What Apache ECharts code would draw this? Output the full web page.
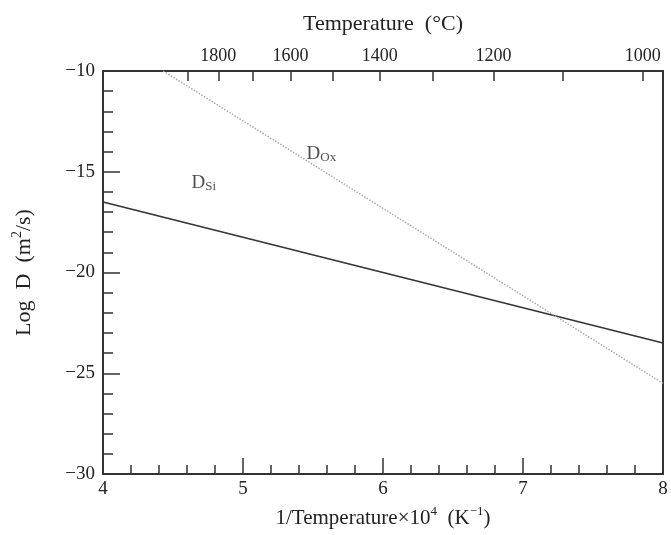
<!DOCTYPE html>
<html>
<head>
<meta charset="utf-8">
<script src="https://cdn.jsdelivr.net/npm/echarts@6/dist/echarts.min.js"></script>
<style>
  html, body { margin: 0; padding: 0; background: #fff; }
  #chart { width: 671px; height: 535px; }
</style>
</head>
<body>
<div id="chart"></div>
<script>
// Reciprocal temperature range (1/T x 10^4, K^-1)
const xMin = 4;
const xMax = 8;
const yMin = -30;
const yMax = -10;

// Temperature scale on the top axis (°C)
const tempTicks = [1900, 1800, 1700, 1600, 1500, 1400, 1300, 1200, 1100, 1000];
const tempLabels = [1800, 1600, 1400, 1200, 1000];

// Diffusivity lines: log D versus 1/T x 10^4
const siX = [4, 8];
const siY = [-16.5, -23.5];
const oxX = [4.43, 8];
const oxY = [-10, -25.5];

// Label anchors for the two lines
const labelSi = [4.72, -15.55, 'Si'];
const labelOx = [5.56, -14.1, 'Ox'];

const toRecip = t => 1e4 / (t + 273);
const minus = s => String(s).replace('-', '\u2212');

const font = 'Liberation Serif, Times New Roman, serif';
const axisColor = '#333';

const chart = echarts.init(document.getElementById('chart'));

chart.setOption({
  backgroundColor: '#fff',
  animation: false,
  grid: { left: 103, right: 8, top: 71, bottom: 61 },
  xAxis: [
    {
      type: 'value', min: xMin, max: xMax, interval: 1,
      position: 'bottom',
      name: '{t|1/Temperature\u00d710}{sup|4}{t|  (K}{sup|\u22121}{t|)}',
      nameLocation: 'middle', nameGap: 30,
      nameTextStyle: {
        rich: {
          t: { fontFamily: font, fontSize: 21, color: '#222', padding: [4, 0, 0, 0] },
          sup: { fontFamily: font, fontSize: 13, color: '#222', padding: [0, 0, 10, 0] }
        }
      },
      axisLine: { onZero: false, lineStyle: { color: axisColor, width: 2 } },
      axisTick: { inside: true, length: 16, lineStyle: { color: axisColor, width: 1.5 } },
      minorTick: { show: true, splitNumber: 5, length: 9, lineStyle: { color: axisColor, width: 1.5 } },
      axisLabel: { fontFamily: font, fontSize: 19, color: '#222', margin: 6 },
      splitLine: { show: false }
    },
    {
      type: 'value', min: xMin, max: xMax,
      position: 'top',
      name: 'Temperature  (\u00b0C)',
      nameLocation: 'middle', nameGap: 36,
      nameTextStyle: { fontFamily: font, fontSize: 22, color: '#222' },
      axisLine: { onZero: false, lineStyle: { color: axisColor, width: 2 } },
      axisTick: {
        inside: true, length: 10,
        customValues: tempTicks.map(toRecip),
        lineStyle: { color: axisColor, width: 1.5 }
      },
      axisLabel: {
        fontFamily: font, fontSize: 18, color: '#222', margin: 6,
        customValues: tempLabels.map(toRecip),
        formatter: v => String(Math.round(1e4 / v - 273))
      },
      splitLine: { show: false }
    }
  ],
  yAxis: [
    {
      type: 'value', min: yMin, max: yMax, interval: 5,
      position: 'left',
      name: '{t|Log  D  (m}{sup|2}{t|/s)}',
      nameLocation: 'middle', nameGap: 68, nameRotate: 90,
      nameTextStyle: {
        rich: {
          t: { fontFamily: font, fontSize: 22, color: '#222', padding: [4, 0, 0, 0] },
          sup: { fontFamily: font, fontSize: 14, color: '#222', padding: [0, 0, 10, 0] }
        }
      },
      axisLine: { onZero: false, lineStyle: { color: axisColor, width: 2 } },
      axisTick: { inside: true, length: 17, lineStyle: { color: axisColor, width: 1.5 } },
      minorTick: { show: true, splitNumber: 5, length: 10, lineStyle: { color: axisColor, width: 1.5 } },
      axisLabel: { fontFamily: font, fontSize: 19, color: '#222', margin: 8, formatter: minus },
      splitLine: { show: false }
    },
    {
      type: 'value', min: yMin, max: yMax,
      position: 'right',
      axisLine: { onZero: false, lineStyle: { color: axisColor, width: 2 } },
      axisTick: { show: false },
      axisLabel: { show: false },
      splitLine: { show: false }
    }
  ],
  series: [
    {
      name: 'DSi', type: 'line', symbol: 'none',
      data: siX.map((x, i) => [x, siY[i]]),
      lineStyle: { color: '#333', width: 1.5 }
    },
    {
      name: 'DOx', type: 'line', symbol: 'none',
      data: oxX.map((x, i) => [x, oxY[i]]),
      lineStyle: { color: '#aaa', width: 1.5, type: 'dotted' }
    },
    {
      name: 'labels', type: 'scatter', symbolSize: 0, silent: true,
      itemStyle: { color: '#222' },
      data: [labelSi, labelOx].map(p => ({ value: [p[0], p[1]], sub: p[2] })),
      label: {
        show: true, position: 'inside',
        color: '#222', textBorderWidth: 0,
        formatter: p => '{d|D}{s|' + p.data.sub + '}',
        rich: {
          d: { fontFamily: font, fontSize: 19, color: '#222', textBorderWidth: 0 },
          s: { fontFamily: font, fontSize: 13, color: '#222', textBorderWidth: 0, padding: [8, 0, 0, 0] }
        }
      }
    }
  ]
});
</script>
</body>
</html>
